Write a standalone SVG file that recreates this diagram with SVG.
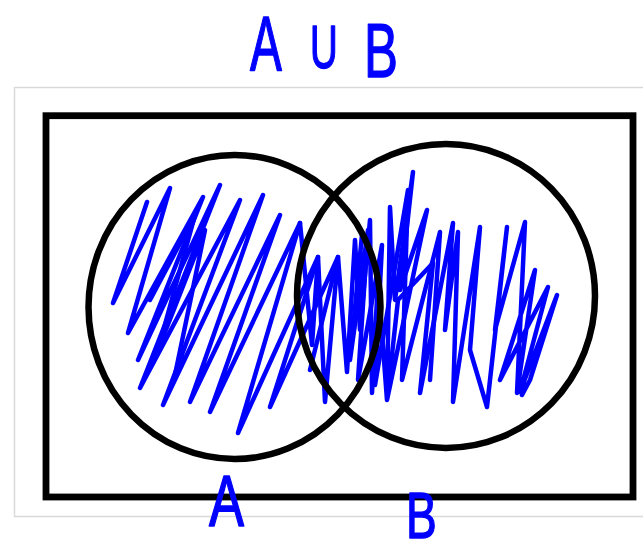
<svg xmlns="http://www.w3.org/2000/svg" width="643" height="552" viewBox="0 0 643 552">
<style>
.hand{font-family:"Liberation Sans","DejaVu Sans",sans-serif;fill:#0000ff;stroke:#0000ff;stroke-width:1.5;stroke-linejoin:round}
.ring{fill:none;stroke:#000;stroke-width:6.5}
.scrib{fill:none;stroke:#0000ff;stroke-width:4.5;stroke-linejoin:round;stroke-linecap:round}
</style>
<rect width="643" height="552" fill="#fff"/>
<g id="title">
<text class="hand" transform="translate(250,71) scale(0.62,1)" font-size="77">A</text>
<text class="hand" transform="translate(310,68) scale(0.62,1)" font-size="62">U</text>
<text class="hand" transform="translate(364,77) scale(0.67,1)" font-size="76">B</text>
</g>
<g id="page">
<rect x="14.5" y="87.5" width="640" height="429" fill="#fff" stroke="#d9d9d9" stroke-width="1.5"/>
</g>
<g id="universe">
<rect x="46" y="115.7" width="587" height="381.3" fill="none" stroke="#000" stroke-width="6.8"/>
</g>
<g id="shading">
<path class="scrib" d="M147,202 L113,303 L170,188 L128,333 L203,197 L138,360 L220,185 L140,388 L240,200 L163,405 L263,195 L190,402 L280,215 L210,412 L300,223 L238,433 L318,257 L270,407 L338,257 L310,370"/>
<path class="scrib" d="M150,300 L195,215 L158,350 L205,230 L175,375"/>
<path class="scrib" d="M300,223 L312,345 L318,257 L325,402 L338,257 L347,372 L355,240 L360,330 L370,220 L372,393 L378,280 L387,400 L390,207 L395,300 L413,172 L400,290 L427,210 L387,400 L398,300 L433,263 L420,393 L453,223 L445,330 L458,232 L453,402 L480,227 L470,350 L487,407 L507,227 L495,330 L525,222 L517,393 L535,270 L500,380 L548,287 L520,392 L557,295 L530,380 L522,395"/>
<path class="scrib" d="M362,235 L350,360 L368,230 L358,380 L382,245 L375,385 L408,190 L402,380 L440,232 L430,380"/>
</g>
<g id="setA">
<ellipse class="ring" cx="234.5" cy="307" rx="146" ry="152"/>
<text class="hand" transform="translate(209,526) scale(0.73,1)" font-size="72">A</text>
</g>
<g id="setB">
<ellipse class="ring" cx="446" cy="296" rx="149" ry="152"/>
<text class="hand" transform="translate(406,538) scale(0.72,1)" font-size="64">B</text>
</g>
</svg>
